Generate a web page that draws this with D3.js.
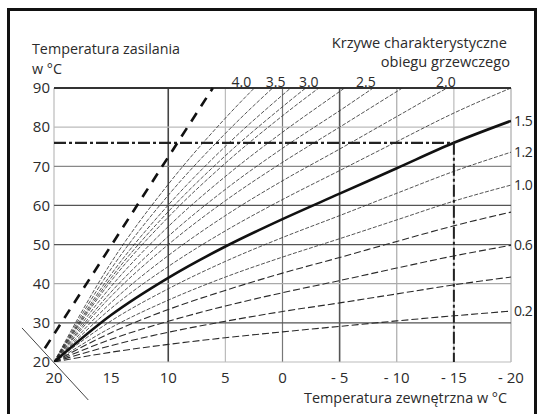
<!DOCTYPE html>
<html lang="pl">
<head>
<meta charset="UTF-8" />
<title>Krzywe grzewcze</title>
<script src="https://cdn.jsdelivr.net/npm/d3@7"></script>
<style>
  body { margin: 0; background: #fff; }
  svg { display: block; }
  text { font-family: 'Open Sans', sans-serif; fill: #2b2b2b; }
</style>
</head>
<body>
<div id="chart"></div>
<script>
// outdoor temperature points (°C) at which each curve was read
const outdoor = [20, 15, 10, 5, 0, -5, -10, -15, -20];

// flow temperature (°C), values above 90 run off the top
const c02  = [20, 22.5, 24.5, 26.2, 27.7, 29.1, 30.5, 31.8, 33];
const c04  = [20, 24.2, 27.6, 30.4, 32.9, 35.1, 37.4, 39.7, 41.7];
const c06  = [20, 25.8, 30.4, 34.3, 37.7, 40.8, 44.0, 47.1, 49.8];
const c08  = [20, 27.5, 33.4, 38.3, 42.7, 46.7, 50.8, 54.8, 58.3];
const c10  = [20, 28.8, 35.8, 41.7, 46.8, 51.5, 56.3, 61.1, 65.2];
const c12  = [20, 30.5, 38.7, 45.7, 51.8, 57.4, 63.1, 68.7, 73.6];
const c15  = [20, 32, 41.5, 49.5, 56.5, 63, 69.5, 76, 81.6];
const c175 = [20, 33.7, 44.4, 53.5, 61.5, 68.9, 76.3, 83.6, 90];
const c20  = [20, 35.2, 47.2, 57.4, 66.3, 74.4, 82.7, 90.9, 98];
const c225 = [20, 36.8, 50, 61.2, 71, 80, 89.1, 98.2, 106];
const c25  = [20, 37.9, 52.1, 64.1, 74.6, 84.2, 94, 103, 110];
const c275 = [20, 39.3, 54.6, 67.4, 78.7, 89.1, 99.6, 110, 118];
const c30  = [20, 40.7, 57, 70.8, 82.9, 94, 105, 115, 124];
const c325 = [20, 41.5, 58.4, 72.7, 85.2, 96.8, 108, 118, 128];
const c35  = [20, 42.4, 60.1, 75.1, 88.2, 100.3, 112, 122, 132];
const c375 = [20, 43.8, 62.6, 78.4, 92.3, 105, 117, 128, 138];
const c40  = [20, 45.4, 65.4, 82.3, 97.1, 111, 124, 135, 146];

const thinCurves = [c02, c04, c06, c08, c10, c12, c175, c20, c225, c25, c275, c30, c325, c35, c375, c40];
const boldCurve = c15;

// labels of the curves
const topLabels = ["4.0", "3.5", "3.0", "2.5", "2.0"];
const topLabelAt = [3.6, 0.6, -2.3, -7.3, -14.3];   // outdoor temp under each top label
const rightLabels = ["1.5", "1.2", "1.0", "0.6", "0.2"];
const rightLabelAt = [81.6, 73.6, 65.2, 49.8, 33];  // flow temp beside each right label

// design point and steep reference line
const designOutdoor = -15;
const designFlow = 76;
const steepLine = [[20.8, 23.5], [6.1, 90]];
const crossLine = [[22.8, 28.7], [17.0, 10.3]];

const xTicks = [20, 15, 10, 5, 0, -5, -10, -15, -20];
const xTickLabels = ["20", "15", "10", "5", "0", "- 5", "- 10", "- 15", "- 20"];
const yTicks = [90, 80, 70, 60, 50, 40, 30, 20];

const width = 540, height = 414;
const svg = d3.select("#chart").append("svg")
  .attr("width", width).attr("height", height);

const x = d3.scaleLinear().domain([20, -20]).range([54, 511]);
const y = d3.scaleLinear().domain([20, 90]).range([362, 88]);

// outer frame
svg.append("rect")
  .attr("x", 8.5).attr("y", 9.5).attr("width", 527).attr("height", 430)
  .attr("fill", "none").attr("stroke", "#111").attr("stroke-width", 3);

// grid, shades as in the scan
const vShade = { 20: "#bbb", 15: null, 10: "#444", 5: "#bbb", 0: "#777", "-5": "#555", "-10": "#aaa", "-15": "#bbb", "-20": "#aaa" };
const hShade = { 90: "#333", 80: "#bbb", 70: "#888", 60: "#555", 50: "#555", 40: "#aaa", 30: "#555", 20: "#bbb" };

xTicks.forEach(t => {
  if (!vShade[t]) return;
  svg.append("line")
    .attr("x1", x(t)).attr("x2", x(t)).attr("y1", y(90)).attr("y2", y(20))
    .attr("stroke", vShade[t]).attr("stroke-width", t === 10 || t === -5 ? 1.6 : 1.2);
});
yTicks.forEach(t => {
  svg.append("line")
    .attr("x1", x(20)).attr("x2", x(-20)).attr("y1", y(t)).attr("y2", y(t))
    .attr("stroke", hShade[t]).attr("stroke-width", t === 90 ? 1.8 : 1.2);
});

// tick labels
svg.append("g").selectAll("text").data(yTicks).join("text")
  .attr("x", 50).attr("y", d => y(d)).attr("dy", "0.35em")
  .attr("text-anchor", "end").attr("font-size", 15).attr("fill", "#3a3a3a")
  .text(d => d);
svg.append("g").selectAll("text").data(xTicks).join("text")
  .attr("x", d => x(d)).attr("y", 378).attr("dy", "0.35em")
  .attr("text-anchor", "middle").attr("font-size", 15).attr("fill", "#3a3a3a")
  .text((d, i) => xTickLabels[i]);

// clip to plot area
svg.append("clipPath").attr("id", "plot")
  .append("rect").attr("x", x(20)).attr("y", y(90))
  .attr("width", x(-20) - x(20)).attr("height", y(20) - y(90));

const line = d3.line()
  .x((d, i) => x(outdoor[i]))
  .y(d => y(d))
  .curve(d3.curveMonotoneX);

const curves = svg.append("g").attr("clip-path", "url(#plot)");
thinCurves.forEach((c, k) => {
  curves.append("path")
    .attr("d", line(c))
    .attr("fill", "none")
    .attr("stroke", "#2a2a2a")
    .attr("stroke-width", k < 4 ? 1.1 : 0.8)
    .attr("stroke-dasharray", k < 4 ? "7,3" : "4,1.6");
});
curves.append("path")
  .attr("d", line(boldCurve))
  .attr("fill", "none").attr("stroke", "#111").attr("stroke-width", 2.6);

// design point lines
svg.append("line")
  .attr("x1", x(20)).attr("x2", x(designOutdoor))
  .attr("y1", y(designFlow)).attr("y2", y(designFlow))
  .attr("stroke", "#222").attr("stroke-width", 2.2)
  .attr("stroke-dasharray", "12,3,3,3");
svg.append("line")
  .attr("x1", x(designOutdoor)).attr("x2", x(designOutdoor))
  .attr("y1", y(designFlow)).attr("y2", y(20))
  .attr("stroke", "#222").attr("stroke-width", 2)
  .attr("stroke-dasharray", "12,3,3,3");

// steep dashed line and the cross mark at the origin
const seg = d3.line().x(d => x(d[0])).y(d => y(d[1]));
svg.append("path").attr("d", seg(steepLine))
  .attr("fill", "none").attr("stroke", "#111").attr("stroke-width", 2.6)
  .attr("stroke-dasharray", "10,8");
svg.append("path").attr("d", seg(crossLine))
  .attr("fill", "none").attr("stroke", "#444").attr("stroke-width", 1);

// curve labels
svg.append("g").selectAll("text").data(topLabels).join("text")
  .attr("x", (d, i) => x(topLabelAt[i])).attr("y", 82).attr("dy", "0.35em")
  .attr("text-anchor", "middle").attr("font-size", 14)
  .text(d => d);
svg.append("g").selectAll("text").data(rightLabels).join("text")
  .attr("x", 514).attr("y", (d, i) => y(rightLabelAt[i])).attr("dy", "0.35em")
  .attr("font-size", 14).attr("letter-spacing", -0.5)
  .text(d => d);

// titles
svg.append("text").attr("x", 32).attr("y", 49).attr("dy", "0.35em")
  .attr("font-size", 14.3).text("Temperatura zasilania");
svg.append("text").attr("x", 32).attr("y", 69).attr("dy", "0.35em")
  .attr("font-size", 14.3).text("w °C");
svg.append("text").attr("x", 507).attr("y", 43).attr("dy", "0.35em")
  .attr("text-anchor", "end").attr("font-size", 14.6).text("Krzywe charakterystyczne");
svg.append("text").attr("x", 510).attr("y", 62).attr("dy", "0.35em")
  .attr("text-anchor", "end").attr("font-size", 14.6).text("obiegu grzewczego");
svg.append("text").attr("x", 507).attr("y", 398).attr("dy", "0.35em")
  .attr("text-anchor", "end").attr("font-size", 14.4).text("Temperatura zewnętrzna w °C");
</script>
</body>
</html>
